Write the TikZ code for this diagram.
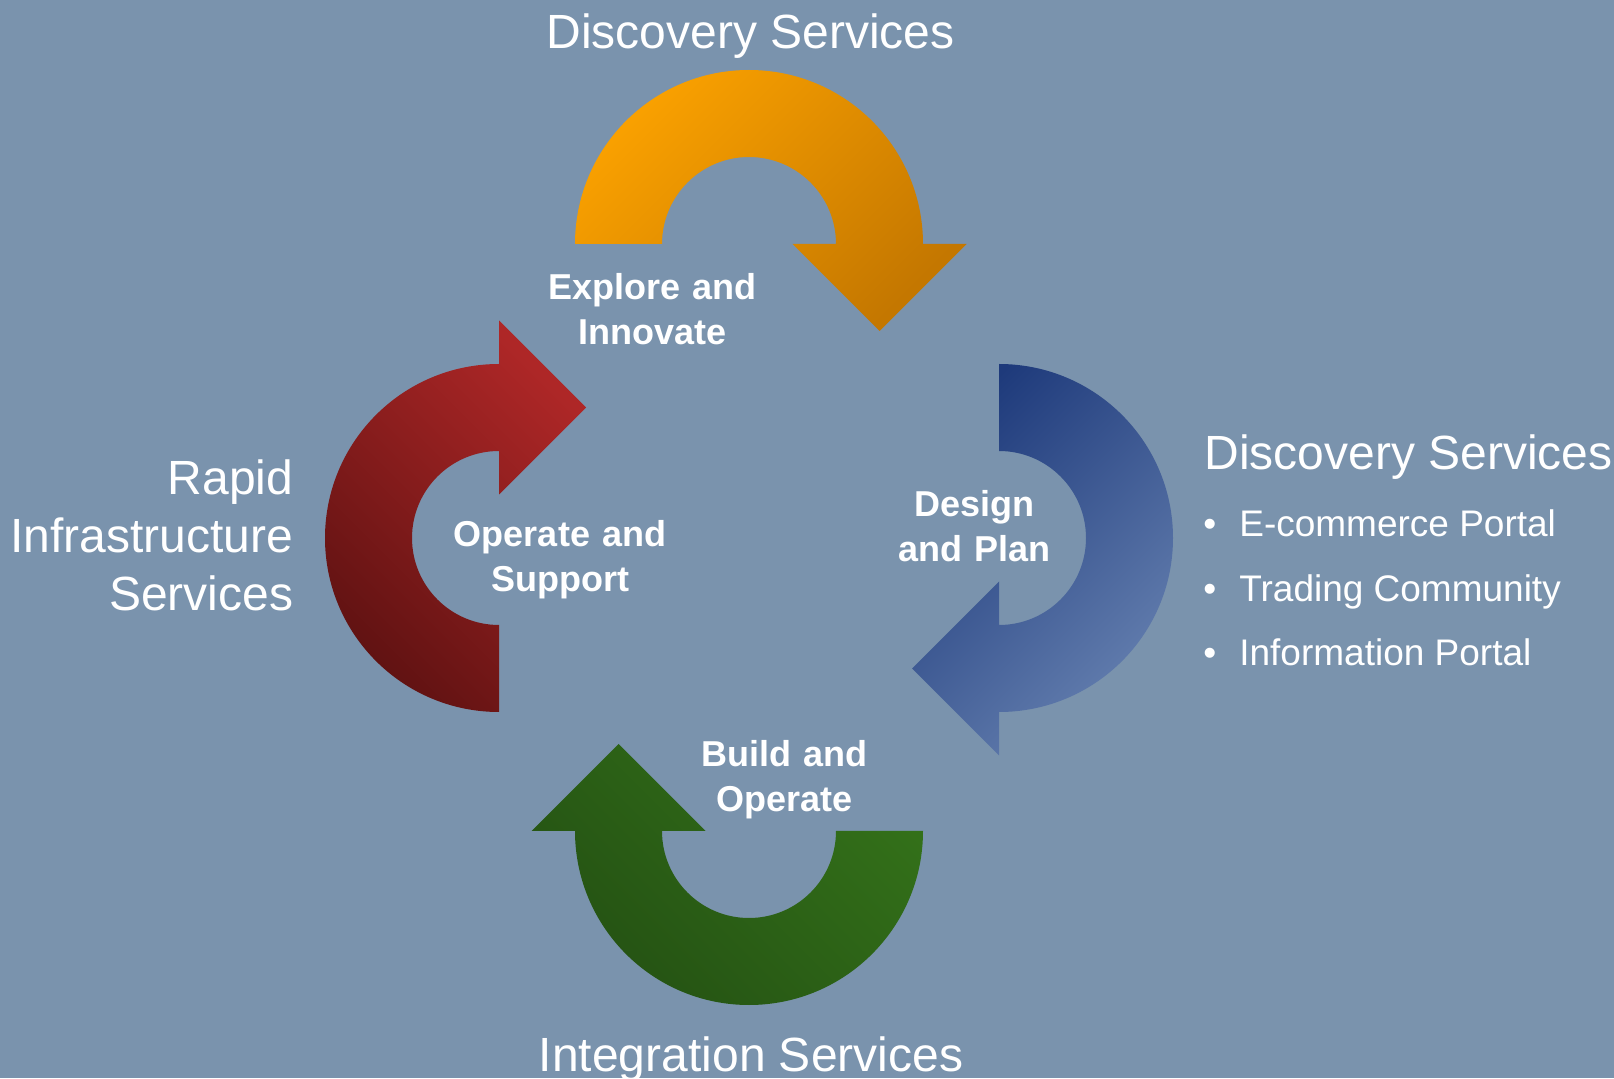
\documentclass[tikz,border=0pt]{standalone}
\usepackage{fontspec}
\setmainfont{Liberation Sans}
\definecolor{bgblue}{HTML}{7A93AD}
\definecolor{orangeA}{HTML}{FAA100}
\definecolor{orangeB}{HTML}{C47700}
\definecolor{redA}{HTML}{AE2727}
\definecolor{redB}{HTML}{601212}
\definecolor{blueA}{HTML}{1E3A7B}
\definecolor{blueB}{HTML}{6580B0}
\definecolor{greenA}{HTML}{337019}
\definecolor{greenB}{HTML}{245113}
\begin{document}
\begin{tikzpicture}[x=0.5pt, y=0.5pt,
    title/.style={text=white, inner sep=0pt, font=\fontsize{24}{28.8}\selectfont},
    phase/.style={text=white, inner sep=0pt, align=center, text width=150pt,
      anchor=base, font=\bfseries\fontsize{18}{22.2}\selectfont},
    item/.style={text=white, inner sep=0pt, anchor=base west,
      font=\fontsize{18.5}{22}\selectfont},
    orangeshd/.style={top color=orangeA, bottom color=orangeB, shading angle=45},
    blueshd/.style={top color=blueA, bottom color=blueB, shading angle=45},
    greenshd/.style={top color=greenA, bottom color=greenB, shading angle=-45},
    redshd/.style={top color=redA, bottom color=redB, shading angle=-45}]

  \useasboundingbox (0,0) rectangle (1614,1078);
  \fill[bgblue] (0,0) rectangle (1614,1078);

  \foreach \cx/\cy/\rot/\shd in {749/834/0/orangeshd, 999/540/-90/blueshd,
    749/247/180/greenshd, 499/540/90/redshd}
  {\shade[\shd] [rotate around={\rot:(\cx,\cy)}]
      (\cx,\cy) ++(-174,0) arc[start angle=180, end angle=0, radius=174]
      -- ++(43.5,0) -- ++(-87,-87) -- ++(-87,87) -- ++(43.5,0)
      arc[start angle=0, end angle=180, radius=87] -- cycle;
  }

  \draw (750.7,1029.7) node[title, anchor=base] (disctop) {Discovery Services};
  \draw (751,7) node[title, anchor=base] (integ) {Integration Services};
  \draw (1204,608) node[title, anchor=base west] (discright) {Discovery Services};
  \draw (293.5,583) node[title, align=right, text width=150pt, anchor=base east]
    (rapid) {Rapid\\Infrastructure\\Services};

  \foreach \txt [count=\i] in {E-commerce Portal, Trading Community, Information Portal}
    \draw (1203, 605.5-64.5*\i) node[item] (item\i) {\textbullet\hspace{11.5pt}\txt};

  \draw (652.8,778) node[phase] (explore) {Explore and\\Innovate};
  \draw (560,531.3) node[phase] (operate) {Operate and\\Support};
  \draw (974.8,561.3) node[phase] (design) {Design\\and Plan};
  \draw (784.7,311) node[phase] (build) {Build and\\Operate};

\end{tikzpicture}
\end{document}
